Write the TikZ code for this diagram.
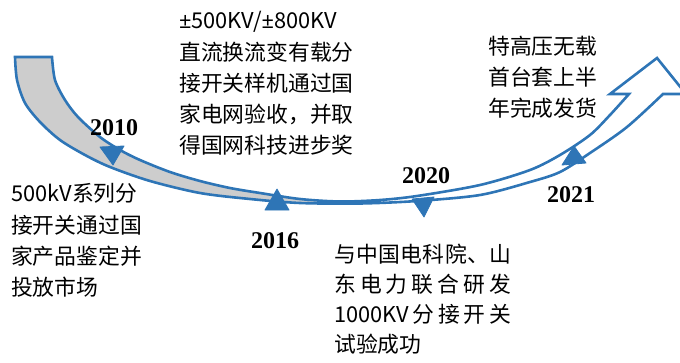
\documentclass[tikz,border=0pt]{standalone}
\usepackage{fontspec}
\newfontfamily\cjk{Noto Sans CJK SC}
\newfontfamily\latf{Noto Sans}
\newfontfamily\yrfont{Liberation Serif}
\definecolor{arrowblue}{RGB}{46,117,182}
\definecolor{backgray}{RGB}{205,205,205}
\begin{document}
\begin{tikzpicture}[x=1pt,y=-1pt,
  txt/.style={anchor=base west, inner sep=0pt, font=\cjk\fontsize{21.8}{26}\selectfont, text=black},
  yr/.style={anchor=base, inner sep=0pt, font=\yrfont\bfseries\fontsize{24}{28}\selectfont, text=black},
  tri/.style={fill=arrowblue, draw=arrowblue, line width=0.8pt, line join=round},
  band/.style={draw=arrowblue, line width=2.6pt, line join=miter}]
\useasboundingbox (0,0) rectangle (680,362);
\clip (0,0) rectangle (680,362);
% gray back part
\fill[backgray] plot[smooth] coordinates {(15,57) (17,80) (25,103) (40,122) (60,140) (85,155) (110,167) (150,181) (200,193) (250,199) (300,203) (335,203.5)}
  -- plot[smooth] coordinates {(335,202) (300,199) (260,193) (230,188) (200,181) (170,172) (140,160) (120,150) (100,137) (78,117) (65,100) (55,80) (52,57)} -- cycle;
% outline of the curved arrow
\draw[band] plot[smooth] coordinates {(52,57) (55,80) (65,100) (78,117) (100,137) (120,150) (140,160) (170,172) (200,181) (230,188) (260,193) (300,199) (340,201.5) (380,200) (417,196) (480,185) (530,170) (560,155) (590,135) (610,115) (629,94)}
  -- (610,94) -- (657,58) -- (686,94) -- (663,94)
  -- plot[smooth] coordinates {(663,94) (627,127) (590,153) (560,172) (530,182) (480,195) (417,201) (360,203.5) (300,203) (250,199) (200,193) (150,181) (110,167) (85,155) (60,140) (40,122) (25,103) (17,80) (15,57)}
  -- cycle;
% milestone triangles
\draw[tri] (100,147) -- (124,146) -- (113,165) -- cycle;
\draw[tri] (265,210) -- (289,210) -- (277,189) -- cycle;
\draw[tri] (412,199) -- (434,197) -- (424,217) -- cycle;
\draw[tri] (562,165) -- (586,163) -- (574,146) -- cycle;
% years
\node[yr] (y2010) at (114,135) {2010};
\node[yr] (y2016) at (275,248) {2016};
\node[yr] (y2020) at (426,183) {2020};
\node[yr] (y2021) at (571,202) {2021};
% top middle text
\node[txt] (a1) at (179,28) {{\latf ±}500KV/{\latf ±}800KV};
\node[txt] (a2) at (179,60) {直流换流变有载分};
\node[txt] (a3) at (179,91) {接开关样机通过国};
\node[txt] (a4) at (179,122) {家电网验收，并取};
\node[txt] (a5) at (179,153) {得国网科技进步奖};
% top right text
\node[txt] (b1) at (488,54) {特高压无载};
\node[txt] (b2) at (488,85) {首台套上半};
\node[txt] (b3) at (488,116) {年完成发货};
% bottom left text
\node[txt] (c1) at (11,201) {500kV系列分};
\node[txt] (c2) at (11,233) {接开关通过国};
\node[txt] (c3) at (11,264) {家产品鉴定并};
\node[txt] (c4) at (11,295) {投放市场};
% bottom right text
\node[txt] (d1) at (334,262) {\makebox[177pt][s]{与\hfil 中\hfil 国\hfil 电\hfil 科\hfil 院\hfil 、\hfil 山}};
\node[txt] (d2) at (334,292) {\makebox[177pt][s]{东\hfil 电\hfil 力\hfil 联\hfil 合\hfil 研\hfil 发}};
\node[txt] (d3) at (334,322) {\makebox[177pt][s]{1000KV\hfil 分\hfil 接\hfil 开\hfil 关}};
\node[txt] (d4) at (334,352) {试验成功};
\end{tikzpicture}
\end{document}
